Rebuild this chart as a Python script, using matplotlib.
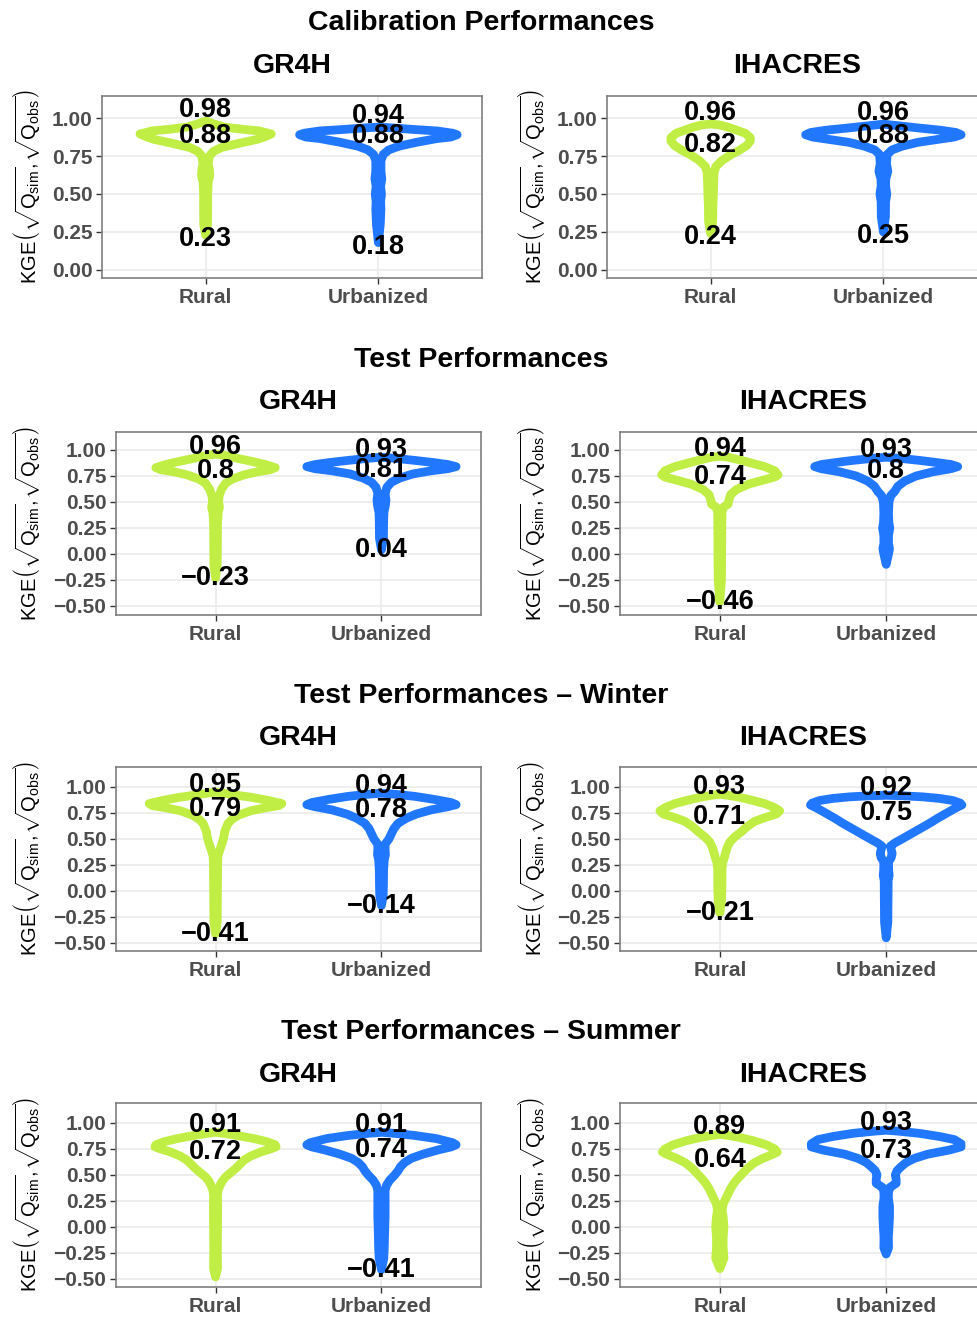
import matplotlib
matplotlib.use("Agg")
import matplotlib.pyplot as plt

plt.rcParams["font.family"] = ["Liberation Sans", "DejaVu Sans"]
plt.rcParams["mathtext.fontset"] = "custom"
plt.rcParams["mathtext.rm"] = "Liberation Sans"
plt.rcParams["mathtext.it"] = "Liberation Sans:italic"
plt.rcParams["mathtext.bf"] = "Liberation Sans:bold"

SECTIONS = ["Calibration Performances", "Test Performances",
            "Test Performances \u2013 Winter", "Test Performances \u2013 Summer"]
MODELS = ["GR4H", "IHACRES"]
GROUPS = ["Rural", "Urbanized"]
COLORS = ["#C1EE45", "#2277FF"]

# Violin outlines: (KGE, half-width in category spacing),
# from the upper tip down to the lower tip.
CAL_GR4H_RURAL = [(0.98, 0), (0.96, 0.05), (0.94, 0.11), (0.925, 0.22), (0.915, 0.31),
                  (0.895, 0.38), (0.875, 0.34), (0.86, 0.30), (0.83, 0.18), (0.805, 0.09),
                  (0.78, 0.045), (0.75, 0.022), (0.70, 0.015), (0.66, 0.022), (0.62, 0.024),
                  (0.58, 0.015), (0.50, 0.012), (0.40, 0.012), (0.30, 0.011), (0.23, 0)]
CAL_GR4H_URBAN = [(0.94, 0), (0.935, 0.08), (0.925, 0.2), (0.915, 0.34), (0.90, 0.43),
                  (0.89, 0.456), (0.875, 0.42), (0.865, 0.34), (0.84, 0.22), (0.815, 0.12),
                  (0.79, 0.06), (0.76, 0.028), (0.72, 0.015), (0.65, 0.015), (0.60, 0.02),
                  (0.55, 0.013), (0.50, 0.018), (0.45, 0.013), (0.40, 0.015), (0.30, 0.011),
                  (0.18, 0)]
CAL_IHAC_RURAL = [(0.96, 0), (0.955, 0.05), (0.94, 0.10), (0.92, 0.15), (0.90, 0.20),
                  (0.87, 0.23), (0.85, 0.23), (0.82, 0.21), (0.79, 0.17), (0.76, 0.12),
                  (0.72, 0.065), (0.68, 0.03), (0.64, 0.02), (0.58, 0.018), (0.50, 0.016),
                  (0.42, 0.013), (0.32, 0.012), (0.24, 0)]
CAL_IHAC_URBAN = [(0.96, 0), (0.95, 0.08), (0.935, 0.2), (0.92, 0.33), (0.905, 0.42),
                  (0.89, 0.45), (0.875, 0.41), (0.86, 0.32), (0.84, 0.2), (0.815, 0.11),
                  (0.79, 0.05), (0.76, 0.022), (0.70, 0.018), (0.65, 0.026), (0.60, 0.014),
                  (0.55, 0.013), (0.50, 0.02), (0.45, 0.013), (0.35, 0.012), (0.25, 0)]

TEST_GR4H_RURAL = [(0.96, 0), (0.95, 0.05), (0.92, 0.13), (0.89, 0.22), (0.86, 0.30),
                   (0.83, 0.36), (0.81, 0.33), (0.79, 0.25), (0.76, 0.17), (0.72, 0.10),
                   (0.68, 0.06), (0.62, 0.035), (0.56, 0.022), (0.50, 0.018), (0.45, 0.024),
                   (0.40, 0.016), (0.30, 0.012), (0.10, 0.011), (-0.10, 0.01), (-0.23, 0)]
TEST_GR4H_URBAN = [(0.93, 0), (0.92, 0.08), (0.90, 0.2), (0.88, 0.31), (0.86, 0.40),
                   (0.84, 0.45), (0.82, 0.40), (0.80, 0.30), (0.77, 0.19), (0.73, 0.11),
                   (0.69, 0.06), (0.64, 0.032), (0.58, 0.022), (0.52, 0.027), (0.47, 0.024),
                   (0.40, 0.015), (0.30, 0.013), (0.15, 0.012), (0.04, 0)]
TEST_IHAC_RURAL = [(0.94, 0), (0.93, 0.05), (0.90, 0.13), (0.87, 0.2), (0.84, 0.27),
                   (0.80, 0.33), (0.76, 0.35), (0.74, 0.33), (0.71, 0.26), (0.67, 0.17),
                   (0.62, 0.10), (0.57, 0.065), (0.52, 0.055), (0.48, 0.05), (0.45, 0.022),
                   (0.40, 0.013), (0.20, 0.012), (0.0, 0.011), (-0.25, 0.01), (-0.46, 0)]
TEST_IHAC_URBAN = [(0.93, 0), (0.92, 0.08), (0.90, 0.2), (0.88, 0.3), (0.86, 0.39),
                   (0.84, 0.43), (0.82, 0.39), (0.79, 0.28), (0.75, 0.18), (0.70, 0.11),
                   (0.65, 0.07), (0.60, 0.05), (0.56, 0.027), (0.50, 0.017), (0.40, 0.014),
                   (0.30, 0.016), (0.25, 0.022), (0.18, 0.014), (0.10, 0.014), (0.05, 0.02),
                   (0.0, 0.014), (-0.10, 0)]

WINTER_GR4H_RURAL = [(0.95, 0), (0.94, 0.05), (0.92, 0.13), (0.90, 0.22), (0.87, 0.32),
                     (0.84, 0.40), (0.82, 0.38), (0.80, 0.30), (0.77, 0.21), (0.73, 0.14),
                     (0.69, 0.10), (0.65, 0.075), (0.61, 0.065), (0.57, 0.055), (0.52, 0.05),
                     (0.46, 0.04), (0.40, 0.027), (0.34, 0.015), (0.28, 0.013), (0.10, 0.012),
                     (-0.10, 0.011), (-0.30, 0.01), (-0.41, 0)]
WINTER_GR4H_URBAN = [(0.94, 0), (0.93, 0.08), (0.91, 0.2), (0.88, 0.32), (0.85, 0.42),
                     (0.83, 0.45), (0.81, 0.40), (0.78, 0.30), (0.74, 0.21), (0.70, 0.15),
                     (0.65, 0.10), (0.60, 0.075), (0.55, 0.06), (0.50, 0.045), (0.45, 0.022),
                     (0.40, 0.022), (0.35, 0.024), (0.30, 0.017), (0.20, 0.013), (0.05, 0.012),
                     (-0.05, 0.01), (-0.14, 0)]
WINTER_IHAC_RURAL = [(0.93, 0), (0.92, 0.05), (0.90, 0.12), (0.87, 0.20), (0.84, 0.27),
                     (0.80, 0.33), (0.77, 0.36), (0.74, 0.34), (0.71, 0.28), (0.67, 0.21),
                     (0.62, 0.165), (0.57, 0.13), (0.52, 0.09), (0.47, 0.06), (0.42, 0.045),
                     (0.37, 0.035), (0.32, 0.027), (0.27, 0.017), (0.20, 0.013), (0.10, 0.013),
                     (0.0, 0.012), (-0.10, 0.01), (-0.21, 0)]
WINTER_IHAC_URBAN = [(0.92, 0), (0.915, 0.1), (0.905, 0.22), (0.89, 0.32), (0.87, 0.40),
                     (0.845, 0.445), (0.827, 0.455), (0.80, 0.42), (0.75, 0.365), (0.70, 0.31),
                     (0.65, 0.26), (0.60, 0.205), (0.55, 0.15), (0.50, 0.095), (0.46, 0.05),
                     (0.43, 0.025), (0.40, 0.03), (0.36, 0.036), (0.32, 0.03), (0.28, 0.014),
                     (0.20, 0.015), (0.15, 0.018), (0.10, 0.012), (-0.10, 0.011),
                     (-0.30, 0.01), (-0.45, 0)]

SUMMER_GR4H_RURAL = [(0.91, 0), (0.90, 0.05), (0.88, 0.13), (0.85, 0.23), (0.82, 0.31),
                     (0.79, 0.36), (0.77, 0.365), (0.75, 0.33), (0.72, 0.27), (0.68, 0.21),
                     (0.64, 0.17), (0.60, 0.145), (0.56, 0.12), (0.52, 0.09), (0.48, 0.06),
                     (0.44, 0.04), (0.40, 0.027), (0.35, 0.015), (0.30, 0.012), (0.20, 0.013),
                     (0.0, 0.012), (-0.20, 0.011), (-0.40, 0.012), (-0.48, 0)]
SUMMER_GR4H_URBAN = [(0.91, 0), (0.90, 0.08), (0.88, 0.2), (0.85, 0.33), (0.81, 0.43),
                     (0.79, 0.45), (0.77, 0.42), (0.74, 0.34), (0.70, 0.25), (0.66, 0.18),
                     (0.62, 0.14), (0.58, 0.115), (0.54, 0.10), (0.50, 0.08), (0.45, 0.05),
                     (0.40, 0.03), (0.35, 0.022), (0.25, 0.022), (0.10, 0.022), (0.0, 0.02),
                     (-0.20, 0.017), (-0.30, 0.014), (-0.41, 0)]
SUMMER_IHAC_RURAL = [(0.89, 0), (0.88, 0.05), (0.86, 0.12), (0.83, 0.2), (0.79, 0.28),
                     (0.75, 0.33), (0.72, 0.345), (0.70, 0.32), (0.66, 0.26), (0.62, 0.21),
                     (0.57, 0.17), (0.52, 0.14), (0.47, 0.11), (0.42, 0.085), (0.37, 0.065),
                     (0.32, 0.05), (0.27, 0.035), (0.22, 0.02), (0.16, 0.014), (0.10, 0.02),
                     (0.0, 0.025), (-0.10, 0.02), (-0.20, 0.02), (-0.30, 0.025), (-0.40, 0)]
SUMMER_IHAC_URBAN = [(0.93, 0), (0.92, 0.08), (0.90, 0.2), (0.87, 0.32), (0.84, 0.41),
                     (0.80, 0.45), (0.77, 0.45), (0.74, 0.38), (0.70, 0.25), (0.66, 0.17),
                     (0.62, 0.12), (0.58, 0.09), (0.54, 0.065), (0.50, 0.055), (0.46, 0.06),
                     (0.42, 0.06), (0.38, 0.022), (0.34, 0.014), (0.28, 0.013), (0.20, 0.02),
                     (0.10, 0.02), (0.0, 0.017), (-0.10, 0.013), (-0.20, 0.014), (-0.26, 0)]

OUTLINES = [
    [[CAL_GR4H_RURAL, CAL_GR4H_URBAN], [CAL_IHAC_RURAL, CAL_IHAC_URBAN]],
    [[TEST_GR4H_RURAL, TEST_GR4H_URBAN], [TEST_IHAC_RURAL, TEST_IHAC_URBAN]],
    [[WINTER_GR4H_RURAL, WINTER_GR4H_URBAN], [WINTER_IHAC_RURAL, WINTER_IHAC_URBAN]],
    [[SUMMER_GR4H_RURAL, SUMMER_GR4H_URBAN], [SUMMER_IHAC_RURAL, SUMMER_IHAC_URBAN]],
]

# annotated statistics [section][model][group]; None = not printed
KGE_MAX = [[[0.98, 0.94], [0.96, 0.96]],
           [[0.96, 0.93], [0.94, 0.93]],
           [[0.95, 0.94], [0.93, 0.92]],
           [[0.91, 0.91], [0.89, 0.93]]]
KGE_MEDIAN = [[[0.88, 0.88], [0.82, 0.88]],
              [[0.80, 0.81], [0.74, 0.80]],
              [[0.79, 0.78], [0.71, 0.75]],
              [[0.72, 0.74], [0.64, 0.73]]]
KGE_MIN = [[[0.23, 0.18], [0.24, 0.25]],
           [[-0.23, 0.04], [-0.46, None]],
           [[-0.41, -0.14], [-0.21, None]],
           [[None, -0.41], [None, None]]]

Y_TICKS = [[0.0, 0.25, 0.5, 0.75, 1.0]] + [[-0.5, -0.25, 0.0, 0.25, 0.5, 0.75, 1.0]] * 3
Y_LIMITS = [(-0.053, 1.145), (-0.587, 1.173), (-0.577, 1.192), (-0.577, 1.192)]

# layout in pixels of the 978 x 1318 canvas
W, H = 978, 1318
PANEL_ROWS = [(96, 278), (432, 615), (767, 951), (1103, 1287)]
PANEL_COLS = [[(102, 482), (607, 987)]] + [[(116, 481), (620, 986)]] * 3
TITLE_Y = [23, 360, 696, 1032]
SUBTITLE_Y = [66, 402, 738, 1075]
YLABEL_X = [27, 532]
MAX_NUDGE = [4, 0, 0, 0]
MIN_NUDGE = [-4, 0, 0, 0]

DARK = "#000000"
TICK_GREY = "#4D4D4D"
YLABEL = (r"$\mathrm{KGE}\left(\sqrt{\mathrm{Q}_{\mathrm{sim}}},"
          r"\!\sqrt{\mathrm{Q}_{\mathrm{obs}}}\right)$")


def fmt(value):
    return f"{value:g}".replace("-", "\u2212")


def draw_violin(axis, pos, outline, color):
    ys = [p[0] for p in outline]
    ws = [p[1] for p in outline]
    xs = [pos + w for w in ws] + [pos - w for w in reversed(ws)]
    axis.fill(xs, ys + ys[::-1], facecolor="white", edgecolor=color,
              linewidth=6.3, joinstyle="round", zorder=3)


def draw_panel(fig, s, m):
    left, right = PANEL_COLS[s][m]
    top, bottom = PANEL_ROWS[s]
    axis = fig.add_axes([left / W, 1 - bottom / H, (right - left) / W, (bottom - top) / H])
    axis.set_xlim(0.4, 2.6)
    axis.set_ylim(*Y_LIMITS[s])
    axis.set_xticks([1, 2])
    axis.set_xticklabels(GROUPS)
    axis.set_yticks(Y_TICKS[s])
    axis.set_yticklabels([f"{t:.2f}".replace("-", "\u2212") for t in Y_TICKS[s]])
    axis.tick_params(labelsize=15, labelcolor=TICK_GREY, color="#333333",
                     length=4, width=1.0, pad=3)
    for lab in axis.get_xticklabels() + axis.get_yticklabels():
        lab.set_fontweight("bold")
    axis.grid(True, color="#EBEBEB", linewidth=1.2, zorder=0)
    axis.set_axisbelow(True)
    for spine in axis.spines.values():
        spine.set_color("#7F7F7F")
        spine.set_linewidth(1.2)

    for g in range(2):
        pos = g + 1
        draw_violin(axis, pos, OUTLINES[s][m][g], COLORS[g])
        axis.annotate(fmt(KGE_MAX[s][m][g]), (pos, KGE_MAX[s][m][g]),
                      xytext=(0, MAX_NUDGE[s]), textcoords="offset pixels",
                      ha="center", va="baseline", fontsize=19.5, weight="bold",
                      color=DARK, zorder=5)
        axis.text(pos, KGE_MEDIAN[s][m][g], fmt(KGE_MEDIAN[s][m][g]), ha="center",
                  va="center", fontsize=19.5, weight="bold", color=DARK, zorder=5)
        if KGE_MIN[s][m][g] is not None:
            axis.annotate(fmt(KGE_MIN[s][m][g]), (pos, KGE_MIN[s][m][g]),
                          xytext=(0, MIN_NUDGE[s]), textcoords="offset pixels",
                          ha="center", va="center", fontsize=19.5, weight="bold",
                          color=DARK, zorder=5)

    fig.text(YLABEL_X[m] / W, 1 - (top + bottom) / 2 / H, YLABEL, rotation=90,
             ha="center", va="center", fontsize=14.5, color=DARK)
    fig.text((left + right) / 2 / W, 1 - SUBTITLE_Y[s] / H, MODELS[m],
             ha="center", va="center", fontsize=20.5, weight="bold", color=DARK)


def main():
    fig = plt.figure(figsize=(W / 100, H / 100), dpi=100)
    for s, title in enumerate(SECTIONS):
        fig.text(481 / W, 1 - TITLE_Y[s] / H, title, ha="center", va="center",
                 fontsize=20.5, weight="bold", color=DARK)
        for m in range(2):
            draw_panel(fig, s, m)
    fig.savefig("out.png", dpi=100, facecolor="white")


if __name__ == "__main__":
    main()
